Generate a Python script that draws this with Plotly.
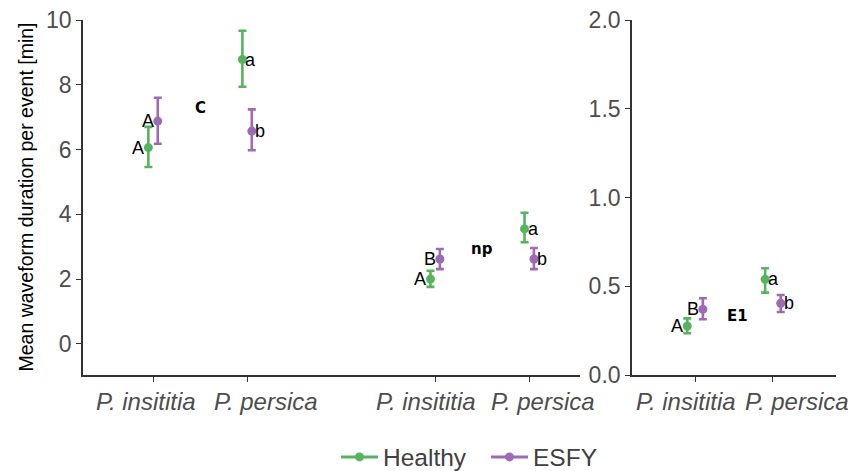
import plotly.graph_objects as go

# ---------------- data ----------------
species = ["P. insititia", "P. persica"]
groups = ["Healthy", "ESFY"]
colors = {"Healthy": "#58b35f", "ESFY": "#9d6bb5"}

# Panel C (left facet, left part)
C_mean = {"Healthy": [6.06, 8.78], "ESFY": [6.88, 6.57]}
C_low = {"Healthy": [5.46, 7.94], "ESFY": [6.18, 5.98]}
C_high = {"Healthy": [6.70, 9.67], "ESFY": [7.60, 7.24]}
C_letters = {"Healthy": ["A", "a"], "ESFY": ["A", "b"]}

# Panel np (left facet, right part)
np_mean = {"Healthy": [2.00, 3.55], "ESFY": [2.62, 2.62]}
np_low = {"Healthy": [1.76, 3.14], "ESFY": [2.31, 2.31]}
np_high = {"Healthy": [2.26, 4.05], "ESFY": [2.93, 2.96]}
np_letters = {"Healthy": ["A", "a"], "ESFY": ["B", "b"]}

# Panel E1 (right facet)
E1_mean = {"Healthy": [0.276, 0.539], "ESFY": [0.370, 0.404]}
E1_low = {"Healthy": [0.235, 0.464], "ESFY": [0.314, 0.355]}
E1_high = {"Healthy": [0.319, 0.601], "ESFY": [0.432, 0.451]}
E1_letters = {"Healthy": ["A", "a"], "ESFY": ["B", "b"]}

panel_labels = ["C", "np", "E1"]
panel_label_y = [7.28, 2.94, 0.33]
y_title = "Mean waveform duration per event [min]"

# category positions (index of species) and offsets per panel
cat_pos = [1, 2]
np_shift = 3  # np group placed after a gap on the shared axis
dodge_left = {"Healthy": -0.05, "ESFY": 0.05}
dodge_right = {"Healthy": -0.1, "ESFY": 0.1}

fig = go.Figure()

label_font = dict(family="Liberation Sans, Arial", size=18, color="black")


def add_panel(mean, low, high, letters, shift, dodge, xa, ya):
    for g in groups:
        xs = [p + shift + dodge[g] for p in cat_pos]
        ys = mean[g]
        fig.add_trace(go.Scatter(
            x=xs, y=ys, mode="markers",
            marker=dict(color=colors[g], size=9),
            error_y=dict(type="data", symmetric=False,
                         array=[h - m for h, m in zip(high[g], ys)],
                         arrayminus=[m - l for m, l in zip(ys, low[g])],
                         color=colors[g], thickness=2.6, width=4),
            showlegend=False, xaxis=xa, yaxis=ya, hoverinfo="skip"))
        for x, y, t, i in zip(xs, ys, letters[g], range(2)):
            if i == 0:
                fig.add_annotation(x=x, y=y, text=t, xref=xa, yref=ya,
                                   showarrow=False, xanchor="right", xshift=-2,
                                   font=label_font)
            else:
                fig.add_annotation(x=x, y=y, text=t, xref=xa, yref=ya,
                                   showarrow=False, xanchor="left", xshift=1,
                                   font=label_font)


add_panel(C_mean, C_low, C_high, C_letters, 0, dodge_left, "x", "y")
add_panel(np_mean, np_low, np_high, np_letters, np_shift, dodge_left, "x", "y")
add_panel(E1_mean, E1_low, E1_high, E1_letters, 0, dodge_right, "x2", "y2")

panel_font = dict(family="DejaVu Sans", size=15, color="black")
fig.add_annotation(x=1.5, y=panel_label_y[0], text="<b>" + panel_labels[0] + "</b>",
                   xref="x", yref="y", showarrow=False, font=panel_font)
fig.add_annotation(x=1.5 + np_shift, y=panel_label_y[1], text="<b>" + panel_labels[1] + "</b>",
                   xref="x", yref="y", showarrow=False, font=panel_font)
fig.add_annotation(x=1.55, y=panel_label_y[2], text="<b>" + panel_labels[2] + "</b>",
                   xref="x2", yref="y2", showarrow=False, font=panel_font)

# x category labels (drawn at the tick positions, nudged apart like the original)
xtick_font = dict(family="Liberation Sans, Arial", size=24, color="#4d4d4d", style="italic")
label_nudge = [(-7, 19), (-9, 14)]
for xa, shift, nudge in [("x", 0, label_nudge[0]), ("x", np_shift, label_nudge[1]),
                         ("x2", 0, (-9, 24))]:
    for p, sp, nd in zip(cat_pos, species, nudge):
        fig.add_annotation(x=p + shift, y=-0.076, xref=xa, yref="paper", text=sp,
                           showarrow=False, xanchor="center", yanchor="middle",
                           xshift=nd, font=xtick_font)

# legend-only traces
for g in groups:
    fig.add_trace(go.Scatter(x=[None], y=[None], mode="lines+markers", name=g,
                             line=dict(color=colors[g], width=3),
                             marker=dict(color=colors[g], size=9),
                             xaxis="x", yaxis="y"))

# page body has an 8px default margin: figure is sized/placed to compensate
OFF = 8
W, H = 866 - OFF, 471 - OFF + 12

# y-axis title as rotated annotation
fig.add_annotation(x=(25 - OFF) / W, y=0.5, xref="paper", yref="paper", text=y_title,
                   textangle=-90, showarrow=False, xanchor="center", yanchor="middle",
                   font=dict(family="Liberation Sans, Arial", size=19.5, color="black"))

tick_font = dict(family="Liberation Sans, Arial", size=23, color="#4d4d4d")
axis_common = dict(showgrid=False, zeroline=False, showline=True, linecolor="#333333",
                   linewidth=1.6, ticks="outside", ticklen=5, tickcolor="#333333",
                   tickwidth=1.3)

fig.update_layout(
    width=W, height=H,
    margin=dict(l=0, r=0, t=20 - OFF, b=H - (375 - OFF), autoexpand=False),
    plot_bgcolor="white", paper_bgcolor="white",
    font=dict(family="Liberation Sans, Arial"),
    xaxis=dict(domain=[(83 - OFF) / W, (580 - OFF) / W], range=[0.255, 5.54],
               tickvals=[p for p in cat_pos] + [p + np_shift for p in cat_pos],
               showticklabels=False, **axis_common),
    yaxis=dict(range=[-0.96, 10.0], tickvals=[0, 2, 4, 6, 8, 10],
               ticklabeloverflow="allow", tickfont=tick_font, **axis_common),
    xaxis2=dict(domain=[(632 - OFF) / W, (836 - OFF) / W], range=[0.19, 2.81],
                tickvals=cat_pos, anchor="y2", showticklabels=False, **axis_common),
    yaxis2=dict(range=[0, 2.0], tickvals=[0, 0.5, 1.0, 1.5, 2.0],
                ticklabeloverflow="allow",
                tickformat=".1f", anchor="x2", tickfont=tick_font, **axis_common),
    legend=dict(orientation="h", x=(336 - OFF) / W, xanchor="left",
                y=-0.231, yanchor="middle",
                font=dict(family="Liberation Sans, Arial", size=24.5, color="#404040"),
                itemwidth=37, entrywidth=98, entrywidthmode="pixels"),
)

for tr in fig.data:
    tr.update(cliponaxis=False)

fig.write_html("out.html")
